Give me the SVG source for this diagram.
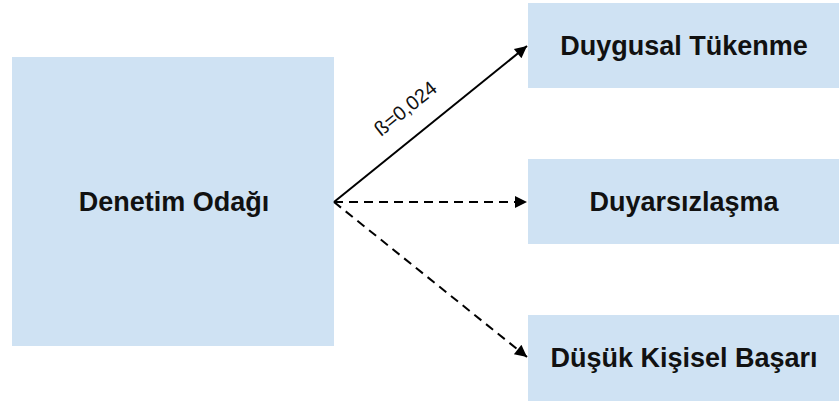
<svg xmlns="http://www.w3.org/2000/svg" width="839" height="401" viewBox="0 0 839 401">
<defs>
<style>
.box{fill:#cfe2f3}
.lbl{font-family:"Liberation Sans",Arial,sans-serif;font-weight:bold;font-size:27px;fill:#111;text-anchor:middle}
.edge{stroke:#000;stroke-width:2;fill:none}
.dash{stroke-dasharray:9 6}
.beta{font-family:"Liberation Sans",Arial,sans-serif;font-size:20px;fill:#111}
</style>
<marker id="ah" viewBox="0 0 10 10" refX="10" refY="5" markerWidth="7" markerHeight="6" markerUnits="strokeWidth" orient="auto">
<path d="M0,0 L10,5 L0,10 Z" fill="#000"/>
</marker>
</defs>
<rect width="839" height="401" fill="#fff"/>
<g id="denetim">
<rect class="box" x="12" y="57" width="322" height="289"/>
<text class="lbl" x="174" y="211">Denetim Odağı</text>
</g>
<g id="duygusal">
<rect class="box" x="528" y="3" width="311" height="85"/>
<text class="lbl" x="684" y="55">Duygusal Tükenme</text>
</g>
<g id="duyarsizlasma">
<rect class="box" x="528" y="159" width="311" height="85"/>
<text class="lbl" x="684" y="211">Duyarsızlaşma</text>
</g>
<g id="dusuk">
<rect class="box" x="528" y="315" width="311" height="86"/>
<text class="lbl" x="684" y="367">Düşük Kişisel Başarı</text>
</g>
<g id="connectors">
<line class="edge" x1="334" y1="202" x2="527" y2="46" marker-end="url(#ah)"/>
<line class="edge dash" x1="334" y1="202" x2="527" y2="202" marker-end="url(#ah)"/>
<line class="edge dash" x1="334" y1="202" x2="527" y2="357" marker-end="url(#ah)"/>
<text class="beta" transform="translate(381,137) rotate(-39)">ß=0,024</text>
</g>
</svg>
